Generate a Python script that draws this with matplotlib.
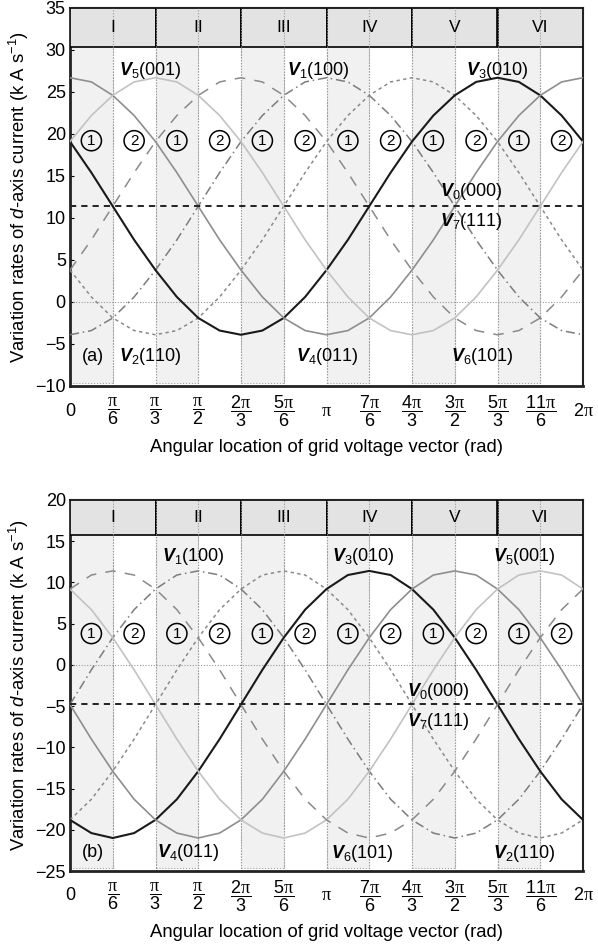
import numpy as np
import matplotlib.pyplot as plt
from matplotlib.patches import Rectangle

plt.rcParams['font.family'] = 'Liberation Sans'
plt.rcParams['mathtext.fontset'] = 'custom'
plt.rcParams['mathtext.rm'] = 'Liberation Sans'
plt.rcParams['mathtext.it'] = 'Liberation Sans:italic'
plt.rcParams['mathtext.bf'] = 'Liberation Sans:bold:italic'
plt.rcParams['mathtext.sf'] = 'Liberation Serif'

# angle of grid voltage vector, degrees (step 15 deg)
theta_deg = list(range(0, 361, 15))

# (a) d-axis current variation rates (kA/s)
a_V1 = [-3.9, -3.4, -1.9, 0.6, 3.8, 7.4, 11.4, 15.4, 19.1, 22.2, 24.6, 26.2, 26.7,
        26.2, 24.6, 22.2, 19.1, 15.4, 11.4, 7.4, 3.8, 0.6, -1.9, -3.4, -3.9]
a_V2 = [3.8, 0.6, -1.9, -3.4, -3.9, -3.4, -1.9, 0.6, 3.8, 7.4, 11.4, 15.4, 19.1,
        22.2, 24.6, 26.2, 26.7, 26.2, 24.6, 22.2, 19.1, 15.4, 11.4, 7.4, 3.8]
a_V3 = [19.1, 15.4, 11.4, 7.4, 3.8, 0.6, -1.9, -3.4, -3.9, -3.4, -1.9, 0.6, 3.8,
        7.4, 11.4, 15.4, 19.1, 22.2, 24.6, 26.2, 26.7, 26.2, 24.6, 22.2, 19.1]
a_V4 = [26.7, 26.2, 24.6, 22.2, 19.1, 15.4, 11.4, 7.4, 3.8, 0.6, -1.9, -3.4, -3.9,
        -3.4, -1.9, 0.6, 3.8, 7.4, 11.4, 15.4, 19.1, 22.2, 24.6, 26.2, 26.7]
a_V5 = [19.1, 22.2, 24.6, 26.2, 26.7, 26.2, 24.6, 22.2, 19.1, 15.4, 11.4, 7.4, 3.8,
        0.6, -1.9, -3.4, -3.9, -3.4, -1.9, 0.6, 3.8, 7.4, 11.4, 15.4, 19.1]
a_V6 = [3.8, 7.4, 11.4, 15.4, 19.1, 22.2, 24.6, 26.2, 26.7, 26.2, 24.6, 22.2, 19.1,
        15.4, 11.4, 7.4, 3.8, 0.6, -1.9, -3.4, -3.9, -3.4, -1.9, 0.6, 3.8]
a_V07 = 11.4

# (b)
b_V1 = [-4.8, -0.6, 3.3, 6.7, 9.2, 10.9, 11.4, 10.9, 9.2, 6.7, 3.3, -0.6, -4.8,
        -9.0, -12.9, -16.3, -18.8, -20.4, -21.0, -20.4, -18.8, -16.3, -12.9, -9.0, -4.8]
b_V2 = [-18.8, -16.3, -12.9, -9.0, -4.8, -0.6, 3.3, 6.7, 9.2, 10.9, 11.4, 10.9, 9.2,
        6.7, 3.3, -0.6, -4.8, -9.0, -12.9, -16.3, -18.8, -20.4, -21.0, -20.4, -18.8]
b_V3 = [-18.8, -20.4, -21.0, -20.4, -18.8, -16.3, -12.9, -9.0, -4.8, -0.6, 3.3, 6.7, 9.2,
        10.9, 11.4, 10.9, 9.2, 6.7, 3.3, -0.6, -4.8, -9.0, -12.9, -16.3, -18.8]
b_V4 = [-4.8, -9.0, -12.9, -16.3, -18.8, -20.4, -21.0, -20.4, -18.8, -16.3, -12.9, -9.0, -4.8,
        -0.6, 3.3, 6.7, 9.2, 10.9, 11.4, 10.9, 9.2, 6.7, 3.3, -0.6, -4.8]
b_V5 = [9.2, 6.7, 3.3, -0.6, -4.8, -9.0, -12.9, -16.3, -18.8, -20.4, -21.0, -20.4, -18.8,
        -16.3, -12.9, -9.0, -4.8, -0.6, 3.3, 6.7, 9.2, 10.9, 11.4, 10.9, 9.2]
b_V6 = [9.2, 10.9, 11.4, 10.9, 9.2, 6.7, 3.3, -0.6, -4.8, -9.0, -12.9, -16.3, -18.8,
        -20.4, -21.0, -20.4, -18.8, -16.3, -12.9, -9.0, -4.8, -0.6, 3.3, 6.7, 9.2]
b_V07 = -4.8

sectors = ['I', 'II', 'III', 'IV', 'V', 'VI']
subsectors = ['1', '2'] * 6
xtick_labels = ['0', r'$\dfrac{\mathsf{\pi}}{6}$', r'$\dfrac{\mathsf{\pi}}{3}$',
                r'$\dfrac{\mathsf{\pi}}{2}$', r'$\dfrac{2\mathsf{\pi}}{3}$',
                r'$\dfrac{5\mathsf{\pi}}{6}$', r'$\mathsf{\pi}$',
                r'$\dfrac{7\mathsf{\pi}}{6}$', r'$\dfrac{4\mathsf{\pi}}{3}$',
                r'$\dfrac{3\mathsf{\pi}}{2}$', r'$\dfrac{5\mathsf{\pi}}{3}$',
                r'$\dfrac{11\mathsf{\pi}}{6}$', r'$2\mathsf{\pi}$']

th = np.deg2rad(theta_deg)

# line styles per vector: V1 .. V6
styles = [
    dict(color='#7c7c7c', lw=1.1, dashes=(6, 2.5, 1, 2.5)),
    dict(color='#8a8a8a', lw=1.1, dashes=(2.2, 2.2)),
    dict(color='#1a1a1a', lw=1.5),
    dict(color='#8e8e8e', lw=1.2),
    dict(color='#c2c2c2', lw=1.2),
    dict(color='#8a8a8a', lw=1.1, dashes=(7, 6)),
]


def draw_panel(ax, curves, v07, ylim, head_y0, circ_y, labels):
    y0, y1 = ylim
    # shaded sub-sectors
    for k in range(6):
        ax.add_patch(Rectangle((k * np.pi / 3, y0 + 0.4), np.pi / 6, y1 - y0 - 0.4,
                               facecolor='#f1f1f1', edgecolor='#a0a0a0', lw=0.8,
                               ls=':', zorder=1))
    # sector header
    for k, name in enumerate(sectors):
        ax.add_patch(Rectangle((k * np.pi / 3, head_y0), np.pi / 3, y1 - head_y0,
                               facecolor='#e3e3e3', edgecolor='black', lw=1.2, zorder=3))
        ax.text((2 * k + 1) * np.pi / 6, (head_y0 + y1) / 2, name, ha='center',
                va='center', fontsize=12.5, zorder=6)
    for k in range(1, 12):
        ax.axvline(k * np.pi / 6, color='#9a9a9a', lw=0.8, ls=(0, (1, 1.5)), zorder=4)
    ax.axhline(0, color='#9a9a9a', lw=0.8, ls=(0, (1, 1.5)), zorder=2)

    for yv, st in zip(curves, styles):
        ax.plot(th, yv, zorder=5, **st)
    ax.axhline(v07, color='#222222', lw=1.4, dashes=(3.2, 2.6), zorder=5)

    cx = [(2 * j + 1) * np.pi / 12 for j in range(12)]
    ax.scatter(cx, [circ_y] * 12, s=14.5 ** 2, facecolors='none', edgecolors='black',
               linewidths=1.1, zorder=6)
    for x, s in zip(cx, subsectors):
        ax.text(x, circ_y, s, ha='center', va='center', fontsize=11, zorder=7)

    for x, y, s in labels:
        ax.text(x, y, s, ha='center', va='center', fontsize=13, zorder=7)

    ax.set_xlim(0, 2 * np.pi)
    ax.set_ylim(y0, y1)
    ax.set_yticks(np.arange(y0, y1 + 1, 5))
    ax.set_xticks([k * np.pi / 6 for k in range(13)])
    ax.set_xticklabels(xtick_labels)
    for t in ax.get_xticklabels():
        t.set_verticalalignment('center')
    ax.tick_params(axis='x', length=0, pad=18, labelsize=13)
    ax.tick_params(axis='y', direction='in', length=3, pad=3, labelsize=13)
    for side in ['left', 'bottom']:
        ax.spines[side].set_linewidth(2)
        ax.spines[side].set_color('#222222')
    for side in ['right', 'top']:
        ax.spines[side].set_linewidth(1.5)
        ax.spines[side].set_color('#222222')
    ax.spines['bottom'].set_zorder(8)
    ax.set_ylabel(r'Variation rates of $d$-axis current (k A s$^{-1}$)', fontsize=13.3,
                  labelpad=3)
    ax.set_xlabel('Angular location of grid voltage vector (rad)', fontsize=13.3,
                  labelpad=7)


fig = plt.figure(figsize=(5.98, 9.5), dpi=100)
ax_a = fig.add_axes([70 / 598, 1 - 386 / 950, 513 / 598, 378 / 950])
ax_b = fig.add_axes([70 / 598, 1 - 871 / 950, 513 / 598, 371 / 950])

labels_a = [
    (0.98, 27.6, r'$\mathbf{V}_{5}$(001)'),
    (3.04, 27.6, r'$\mathbf{V}_{1}$(100)'),
    (5.23, 27.6, r'$\mathbf{V}_{3}$(010)'),
    (4.92, 13.2, r'$\mathbf{V}_{0}$(000)'),
    (4.92, 9.6, r'$\mathbf{V}_{7}$(111)'),
    (0.28, -6.5, '(a)'),
    (0.98, -6.5, r'$\mathbf{V}_{2}$(110)'),
    (3.15, -6.5, r'$\mathbf{V}_{4}$(011)'),
    (5.05, -6.5, r'$\mathbf{V}_{6}$(101)'),
]
labels_b = [
    (1.51, 13.2, r'$\mathbf{V}_{1}$(100)'),
    (3.59, 13.2, r'$\mathbf{V}_{3}$(010)'),
    (5.57, 13.2, r'$\mathbf{V}_{5}$(001)'),
    (4.51, -3.2, r'$\mathbf{V}_{0}$(000)'),
    (4.51, -6.9, r'$\mathbf{V}_{7}$(111)'),
    (0.28, -22.8, '(b)'),
    (1.45, -22.8, r'$\mathbf{V}_{4}$(011)'),
    (3.58, -22.9, r'$\mathbf{V}_{6}$(101)'),
    (5.57, -22.9, r'$\mathbf{V}_{2}$(110)'),
]

draw_panel(ax_a, [a_V1, a_V2, a_V3, a_V4, a_V5, a_V6], a_V07, (-10, 35), 30.4, 19.2,
           labels_a)
draw_panel(ax_b, [b_V1, b_V2, b_V3, b_V4, b_V5, b_V6], b_V07, (-25, 20), 15.8, 3.8,
           labels_b)

fig.savefig('out.png', dpi=100)
